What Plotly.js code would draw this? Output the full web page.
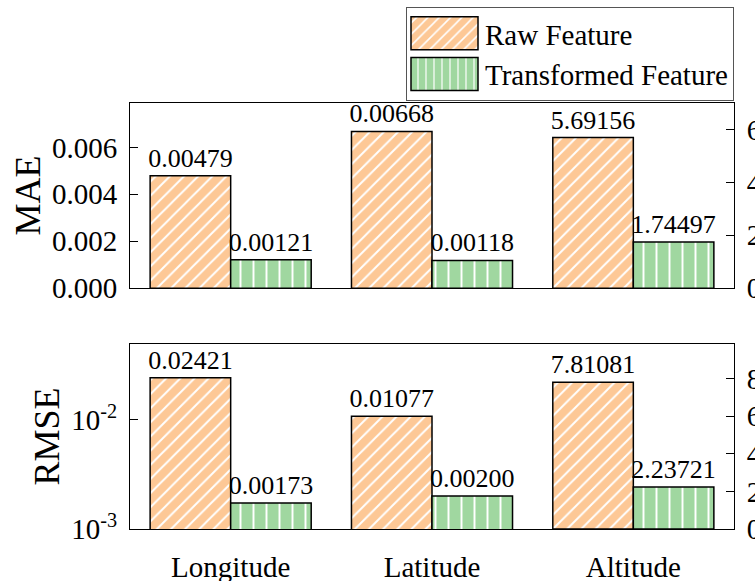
<!DOCTYPE html>
<html>
<head>
<meta charset="utf-8">
<script src="https://cdn.plot.ly/plotly-3.0.1.min.js"></script>
<style>
  html, body { margin: 0; padding: 0; background: #fff; overflow: hidden; }
  #chart { width: 755px; height: 581px; }
</style>
</head>
<body>
<div id="chart"></div>
<script>
// Error metrics per coordinate; Altitude is read on the right-hand axes.
const categories = ['Longitude', 'Latitude', 'Altitude'];
const seriesNames = ['Raw Feature', 'Transformed Feature'];
const maeRaw = [0.00479, 0.00668, 5.69156];
const maeTransformed = [0.00121, 0.00118, 1.74497];
const rmseRaw = [0.02421, 0.01077, 7.81081];
const rmseTransformed = [0.00173, 0.00200, 2.23721];

const maeLeftTicks = [0, 0.002, 0.004, 0.006];
const maeRightTicks = [0, 2, 4, 6];
const rmseLeftTicks = [0.001, 0.01];
const rmseLeftTickText = ['10<sup>-3</sup>', '10<sup>-2</sup>'];
const rmseRightTicks = [0, 2, 4, 6, 8];

const FONT = 'Liberation Serif';

const seriesStyles = [
  { color: '#FDC896', shape: '/', size: 10, solidity: 0.2, offset: -0.4 },
  { color: '#A0D7A0', shape: '|', size: 13, solidity: 0.15, offset: 0 }
];

function barTrace(idx, xs, ys, xa, ya, showlegend) {
  const s = seriesStyles[idx];
  return {
    type: 'bar', name: seriesNames[idx], x: xs, y: ys, xaxis: xa, yaxis: ya,
    width: 0.4, offset: s.offset, showlegend: showlegend,
    marker: {
      color: s.color,
      line: { color: '#000', width: 1.5 },
      pattern: { shape: s.shape, fgcolor: '#fff', bgcolor: s.color, size: s.size, solidity: s.solidity, fillmode: 'replace' }
    },
    texttemplate: '%{y:.5f}', textposition: 'outside', constraintext: 'none', cliponaxis: false,
    textfont: { family: FONT, size: 26, color: '#000' },
    hoverinfo: 'skip'
  };
}

const left = categories.slice(0, 2);
const right = categories.slice(2);

const data = [
  barTrace(0, left, maeRaw.slice(0, 2), 'x', 'y', true),
  barTrace(1, left, maeTransformed.slice(0, 2), 'x', 'y', true),
  barTrace(0, right, maeRaw.slice(2), 'x', 'y2', false),
  barTrace(1, right, maeTransformed.slice(2), 'x', 'y2', false),
  barTrace(0, left, rmseRaw.slice(0, 2), 'x2', 'y3', false),
  barTrace(1, left, rmseTransformed.slice(0, 2), 'x2', 'y3', false),
  barTrace(0, right, rmseRaw.slice(2), 'x2', 'y4', false),
  barTrace(1, right, rmseTransformed.slice(2), 'x2', 'y4', false)
];

const lineStyle = { showline: true, linecolor: '#000', linewidth: 1, showgrid: false, zeroline: false };
const yTickStyle = { ticks: 'inside', ticklen: 8, tickwidth: 1, tickcolor: '#000', tickfont: { family: FONT, size: 29 } };
const xBase = Object.assign({}, lineStyle, {
  mirror: true, domain: [0, 1], type: 'category', categoryorder: 'array',
  categoryarray: categories, range: [-0.5, 2.5], ticks: ''
});

const layout = {
  width: 755, height: 581,
  margin: { l: 130, r: 21, t: 103, b: 52, autoexpand: false },
  paper_bgcolor: '#fff', plot_bgcolor: '#fff',
  font: { family: FONT, size: 29, color: '#000' },
  barmode: 'overlay',
  showlegend: true,
  legend: {
    x: 1, xanchor: 'right', y: 1.2254, yanchor: 'top',
    bordercolor: '#555', borderwidth: 1, bgcolor: '#fff',
    font: { family: FONT, size: 29, color: '#000' },
    itemwidth: 68, traceorder: 'normal'
  },
  xaxis: Object.assign({}, xBase, { anchor: 'y', showticklabels: false }),
  yaxis: Object.assign({}, lineStyle, yTickStyle, {
    domain: [0.5653, 1], anchor: 'x', range: [0, 0.00789],
    tickvals: maeLeftTicks, tickformat: '.3f', ticklabelstandoff: 6,
    title: { text: 'MAE', font: { family: FONT, size: 36 }, standoff: 0 }
  }),
  yaxis2: Object.assign({}, lineStyle, yTickStyle, {
    overlaying: 'y', side: 'right', anchor: 'x', range: [0, 7],
    tickvals: maeRightTicks, ticklabelstandoff: 6
  }),
  xaxis2: Object.assign({}, xBase, { anchor: 'y3', showticklabels: true, tickfont: { family: FONT, size: 29 }, ticklabelstandoff: 12 }),
  yaxis3: Object.assign({}, lineStyle, yTickStyle, {
    domain: [0, 0.4347], anchor: 'x2', type: 'log', range: [-3, -1.305],
    tickvals: rmseLeftTicks, ticktext: rmseLeftTickText, ticklabelstandoff: 6,
    title: { text: 'RMSE', font: { family: FONT, size: 36 }, standoff: 0 }
  }),
  yaxis4: Object.assign({}, lineStyle, yTickStyle, {
    overlaying: 'y3', side: 'right', anchor: 'x2', range: [0, 9.86],
    tickvals: rmseRightTicks, ticklabelstandoff: 6
  })
};

Plotly.newPlot('chart', data, layout, { staticPlot: true, displayModeBar: false }).then(function (gd) {
  // wider legend keys so the hatch patterns read clearly
  gd.querySelectorAll('.legend .legendpoints path').forEach(function (p) {
    p.setAttribute('d', 'M32,16.5H-35V-16.5H32Z');
  });
});
</script>
</body>
</html>
